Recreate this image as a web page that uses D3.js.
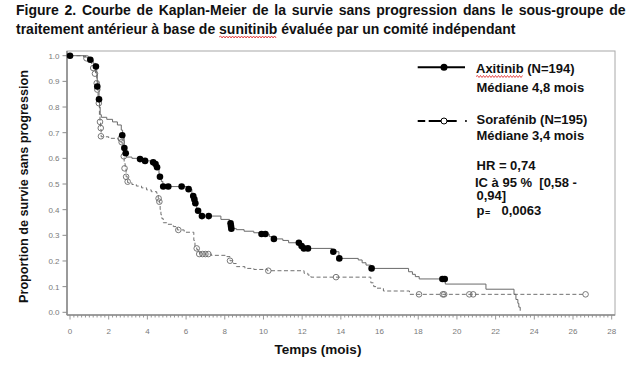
<!DOCTYPE html>
<html><head><meta charset="utf-8">
<script src="https://cdn.jsdelivr.net/npm/d3@7"></script>
<style>body{margin:0;background:#fff}svg{display:block}text{font-family:"Liberation Sans",Arial,sans-serif}</style>
</head><body>
<svg id="c" width="639" height="367"></svg>
<script>
// ---------- data ----------
const titleLine1 = "Figure 2. Courbe de Kaplan-Meier de la survie sans progression dans le sous-groupe de";
const titleLine2 = "traitement antérieur à base de sunitinib évaluée par un comité indépendant";
const xLabel = "Temps (mois)";
const yLabel = "Proportion de survie sans progression";
const xTickValues = [0,2,4,6,8,10,12,14,16,18,20,22,24,26,28];
const yTickValues = [0,0.1,0.2,0.3,0.4,0.5,0.6,0.7,0.8,0.9,1.0];

const seriesNames = ["Axitinib", "Sorafénib"];
const seriesN = ["(N=194)", "(N=195)"];
const seriesMedian = ["Médiane 4,8 mois", "Médiane 3,4 mois"];
const statsLines = ["HR = 0,74", "IC à 95 %\u00a0\u00a0[0,58 -", "0,94]"];
const pLabel = ["p", "=", "0,0063"];

// Axitinib KM steps: time of drop, survival after drop
const axiStepT = [0.7,0.9,1.05,1.2,1.34,1.38,1.41,1.45,1.5,1.53,1.56,1.62,1.9,2.2,2.45,2.65,2.72,2.8,2.86,2.92,3.2,3.6,3.9,4.3,4.42,4.5,4.6,4.65,4.72,4.8,6.1,6.3,6.4,6.46,6.55,6.7,6.8,7.8,8.25,8.31,8.34,8.6,9.0,9.5,9.85,10.3,10.5,11.0,11.3,11.95,12.05,13.55,13.9,14.9,15.1,15.3,15.55,17.5,17.7,17.85,18.05,19.4,21.5,22.95,23.05,23.15,23.2,23.27];
const axiStepS = [0.995,0.99,0.984,0.97,0.958,0.93,0.90,0.875,0.83,0.80,0.77,0.76,0.752,0.742,0.73,0.71,0.69,0.64,0.62,0.605,0.60,0.597,0.59,0.585,0.578,0.565,0.54,0.528,0.51,0.49,0.48,0.46,0.44,0.425,0.40,0.385,0.375,0.362,0.347,0.336,0.326,0.322,0.316,0.31,0.305,0.295,0.286,0.28,0.271,0.258,0.249,0.236,0.21,0.204,0.193,0.184,0.171,0.158,0.148,0.139,0.13,0.11,0.09,0.07,0.05,0.035,0.02,0.006];
const axiEnd = 23.27;
// Axitinib censored marks
const axiCensT = [0,1.05,1.34,1.41,1.5,2.7,2.81,2.88,3.62,3.88,4.3,4.42,4.5,4.65,4.82,5.08,5.77,6.13,6.37,6.43,6.48,6.62,6.82,7.17,8.3,8.32,8.34,9.9,10.1,10.54,11.83,11.97,12.09,12.3,13.61,13.92,15.59,19.25,19.37];
const axiCensS = [1.0,0.984,0.958,0.88,0.83,0.69,0.64,0.62,0.597,0.59,0.585,0.578,0.565,0.528,0.49,0.49,0.49,0.48,0.453,0.44,0.425,0.396,0.375,0.375,0.347,0.336,0.326,0.305,0.305,0.286,0.271,0.258,0.249,0.249,0.236,0.21,0.171,0.13,0.13];

// Sorafenib KM steps
const soraStepT = [0.8,1.0,1.12,1.25,1.32,1.38,1.41,1.45,1.48,1.52,1.55,1.58,1.61,2.0,2.5,2.62,2.7,2.76,2.8,2.85,2.9,2.98,3.2,3.43,3.7,3.96,4.2,4.48,4.56,4.62,4.66,4.7,4.75,4.82,5.0,5.34,5.55,5.9,6.4,6.46,6.55,6.62,6.7,7.3,8.1,8.27,8.45,8.6,9.04,9.5,10.2,12.1,12.3,12.45,15.55,15.7,15.85,16.2,17.55];
const soraStepS = [0.995,0.985,0.965,0.95,0.93,0.90,0.866,0.84,0.81,0.77,0.743,0.713,0.684,0.678,0.671,0.663,0.64,0.613,0.58,0.561,0.528,0.505,0.498,0.492,0.485,0.477,0.47,0.464,0.444,0.427,0.40,0.38,0.365,0.349,0.343,0.334,0.321,0.312,0.28,0.256,0.245,0.235,0.227,0.222,0.217,0.201,0.19,0.178,0.171,0.167,0.162,0.152,0.145,0.137,0.115,0.10,0.094,0.083,0.07];
const soraEnd = 26.65;
const soraCensT = [0.85,1.2,1.29,1.38,1.41,1.49,1.55,1.59,1.6,2.62,2.67,2.78,2.82,2.9,2.98,4.58,4.62,5.6,6.55,6.68,6.85,7.0,7.15,8.27,10.25,13.75,18.04,19.27,19.34,20.64,20.84,26.65];
const soraCensS = [0.99,0.952,0.93,0.893,0.868,0.815,0.742,0.718,0.686,0.677,0.663,0.608,0.561,0.528,0.509,0.444,0.431,0.321,0.249,0.227,0.227,0.227,0.227,0.201,0.162,0.137,0.07,0.07,0.07,0.07,0.07,0.07];

// ---------- drawing ----------
const svg = d3.select("#c");
const x = d3.scaleLinear().domain([0,28]).range([70, 611.7]);
const y = d3.scaleLinear().domain([0,1]).range([312.3, 55.7]);
const frame = {l:67, t:51, r:615, b:315};

function squiggle(x0, x1, yy) {
  let d = `M${x0},${yy}`;
  let up = true;
  for (let xx = x0 + 1.5; xx <= x1; xx += 1.5) { d += `L${xx},${yy + (up ? -1 : 1)}`; up = !up; }
  svg.append("path").attr("d", d).attr("fill","none").attr("stroke","#e02020").attr("stroke-width",0.8);
}

// Title
const tg = svg.append("g").attr("font-weight","bold").attr("font-size",14).attr("fill","#111");
const words = titleLine1.split(" ");
const wNodes = words.map(w => tg.append("text").text(w));
const widths = wNodes.map(n => n.node().getComputedTextLength());
const gap = (625.5 - 16 - d3.sum(widths)) / (words.length - 1);
let xp = 16;
wNodes.forEach((n,i) => { n.attr("x", xp).attr("y", 15); xp += widths[i] + gap; });
const t2 = tg.append("text").attr("x",16).attr("y",34).text(titleLine2);
{
  const idx = titleLine2.indexOf("sunitinib");
  const n = t2.node();
  const s0 = 16 + n.getSubStringLength(0, idx);
  const s1 = s0 + n.getSubStringLength(idx, 9);
  squiggle(s0, s1, 37);
}

// Frame
svg.append("rect").attr("x",frame.l).attr("y",frame.t).attr("width",frame.r-frame.l).attr("height",frame.b-frame.t)
  .attr("fill","none").attr("stroke","#a8a8a8").attr("stroke-width",1);
svg.append("line").attr("x1",frame.l).attr("x2",frame.l).attr("y1",frame.t).attr("y2",frame.b).attr("stroke","#8c8c8c").attr("stroke-width",1.6);
svg.append("line").attr("x1",frame.l).attr("x2",frame.r).attr("y1",frame.b).attr("y2",frame.b).attr("stroke","#8c8c8c").attr("stroke-width",1.3);

// Y axis ticks & labels
yTickValues.forEach(v => {
  svg.append("line").attr("x1",62.5).attr("x2",frame.l).attr("y1",y(v)).attr("y2",y(v)).attr("stroke","#8c8c8c").attr("stroke-width",1);
  svg.append("text").attr("x",59.5).attr("y",y(v)+3).attr("text-anchor","end").attr("font-size",8).attr("fill","#7a7a7a").text(v.toFixed(1));
});
// X axis ticks & labels
d3.range(0, 28.01, 0.2).forEach(v => {
  const major = Math.abs(v/2 - Math.round(v/2)) < 1e-6;
  svg.append("line").attr("x1",x(v)).attr("x2",x(v)).attr("y1",frame.b).attr("y2",frame.b + (major?4.5:2.5)).attr("stroke","#8c8c8c").attr("stroke-width",0.9);
});
xTickValues.forEach(v => {
  svg.append("text").attr("x",x(v)).attr("y",334).attr("text-anchor","middle").attr("font-size",8).attr("fill","#7a7a7a").text(v);
});

// Axis titles
svg.append("text").attr("x",318).attr("y",354).attr("text-anchor","middle").attr("font-weight","bold").attr("font-size",13.5).attr("fill","#111").text(xLabel);
svg.append("text").attr("transform","translate(27.5,186.5) rotate(-90)").attr("text-anchor","middle")
  .attr("font-weight","bold").attr("font-size",13).attr("fill","#111")
  .attr("textLength",233).attr("lengthAdjust","spacingAndGlyphs").text(yLabel);

// KM curves
function kmPoints(T, S, end) {
  const pts = [{t:0, s:1}];
  T.forEach((t,i) => pts.push({t, s:S[i]}));
  pts.push({t:end, s:S[S.length-1]});
  return pts;
}
const line = d3.line().x(d => x(d.t)).y(d => y(d.s)).curve(d3.curveStepAfter);
svg.append("path").attr("d", line(kmPoints(soraStepT, soraStepS, soraEnd)))
  .attr("fill","none").attr("stroke","#707070").attr("stroke-width",1).attr("stroke-dasharray","4,2.5");
svg.append("path").attr("d", line(kmPoints(axiStepT, axiStepS, axiEnd)))
  .attr("fill","none").attr("stroke","#6a6a6a").attr("stroke-width",1);

svg.append("g").selectAll("circle").data(soraCensT.map((t,i)=>({t, s:soraCensS[i]}))).join("circle")
  .attr("cx", d => x(d.t)).attr("cy", d => y(d.s)).attr("r", 2.8)
  .attr("fill","none").attr("stroke","#6a6a6a").attr("stroke-width",0.9);
svg.append("g").selectAll("circle").data(axiCensT.map((t,i)=>({t, s:axiCensS[i]}))).join("circle")
  .attr("cx", d => x(d.t)).attr("cy", d => y(d.s)).attr("r", 3.3).attr("fill","#000");

// Legend
const lg = svg.append("g").attr("font-weight","bold").attr("font-size",13).attr("fill","#111");
lg.append("line").attr("x1",417.7).attr("x2",465).attr("y1",67.3).attr("y2",67.3).attr("stroke","#000").attr("stroke-width",2);
lg.append("circle").attr("cx",444).attr("cy",67.3).attr("r",3.5).attr("fill","#000");
const ax = lg.append("text").attr("x",476).attr("y",73);
ax.append("tspan").text(seriesNames[0]);
ax.append("tspan").text(" " + seriesN[0]);
{
  const n = ax.node();
  squiggle(476, 476 + n.getSubStringLength(0, seriesNames[0].length), 76.5);
}
lg.append("text").attr("x",476.5).attr("y",92).text(seriesMedian[0]);

lg.append("line").attr("x1",417.7).attr("x2",466.7).attr("y1",121).attr("y2",121).attr("stroke","#000").attr("stroke-width",2)
  .attr("stroke-dasharray","7.5,3.5,28,8.5,1.5");
lg.append("circle").attr("cx",444).attr("cy",121).attr("r",3).attr("fill","#fff").attr("stroke","#000").attr("stroke-width",1);
lg.append("text").attr("x",476.5).attr("y",124).text(seriesNames[1] + " " + seriesN[1]);
lg.append("text").attr("x",476.5).attr("y",140).text(seriesMedian[1]);

lg.append("text").attr("x",476.5).attr("y",170).text(statsLines[0]);
lg.append("text").attr("x",475).attr("y",186.5).text(statsLines[1]);
lg.append("text").attr("x",476.5).attr("y",200).text(statsLines[2]);
lg.append("text").attr("x",476.5).attr("y",215).text(pLabel[0]);
lg.append("text").attr("x",485).attr("y",216).attr("font-size",9).text(pLabel[1]);
lg.append("text").attr("x",501.5).attr("y",215).text(pLabel[2]);
</script>
</body></html>
